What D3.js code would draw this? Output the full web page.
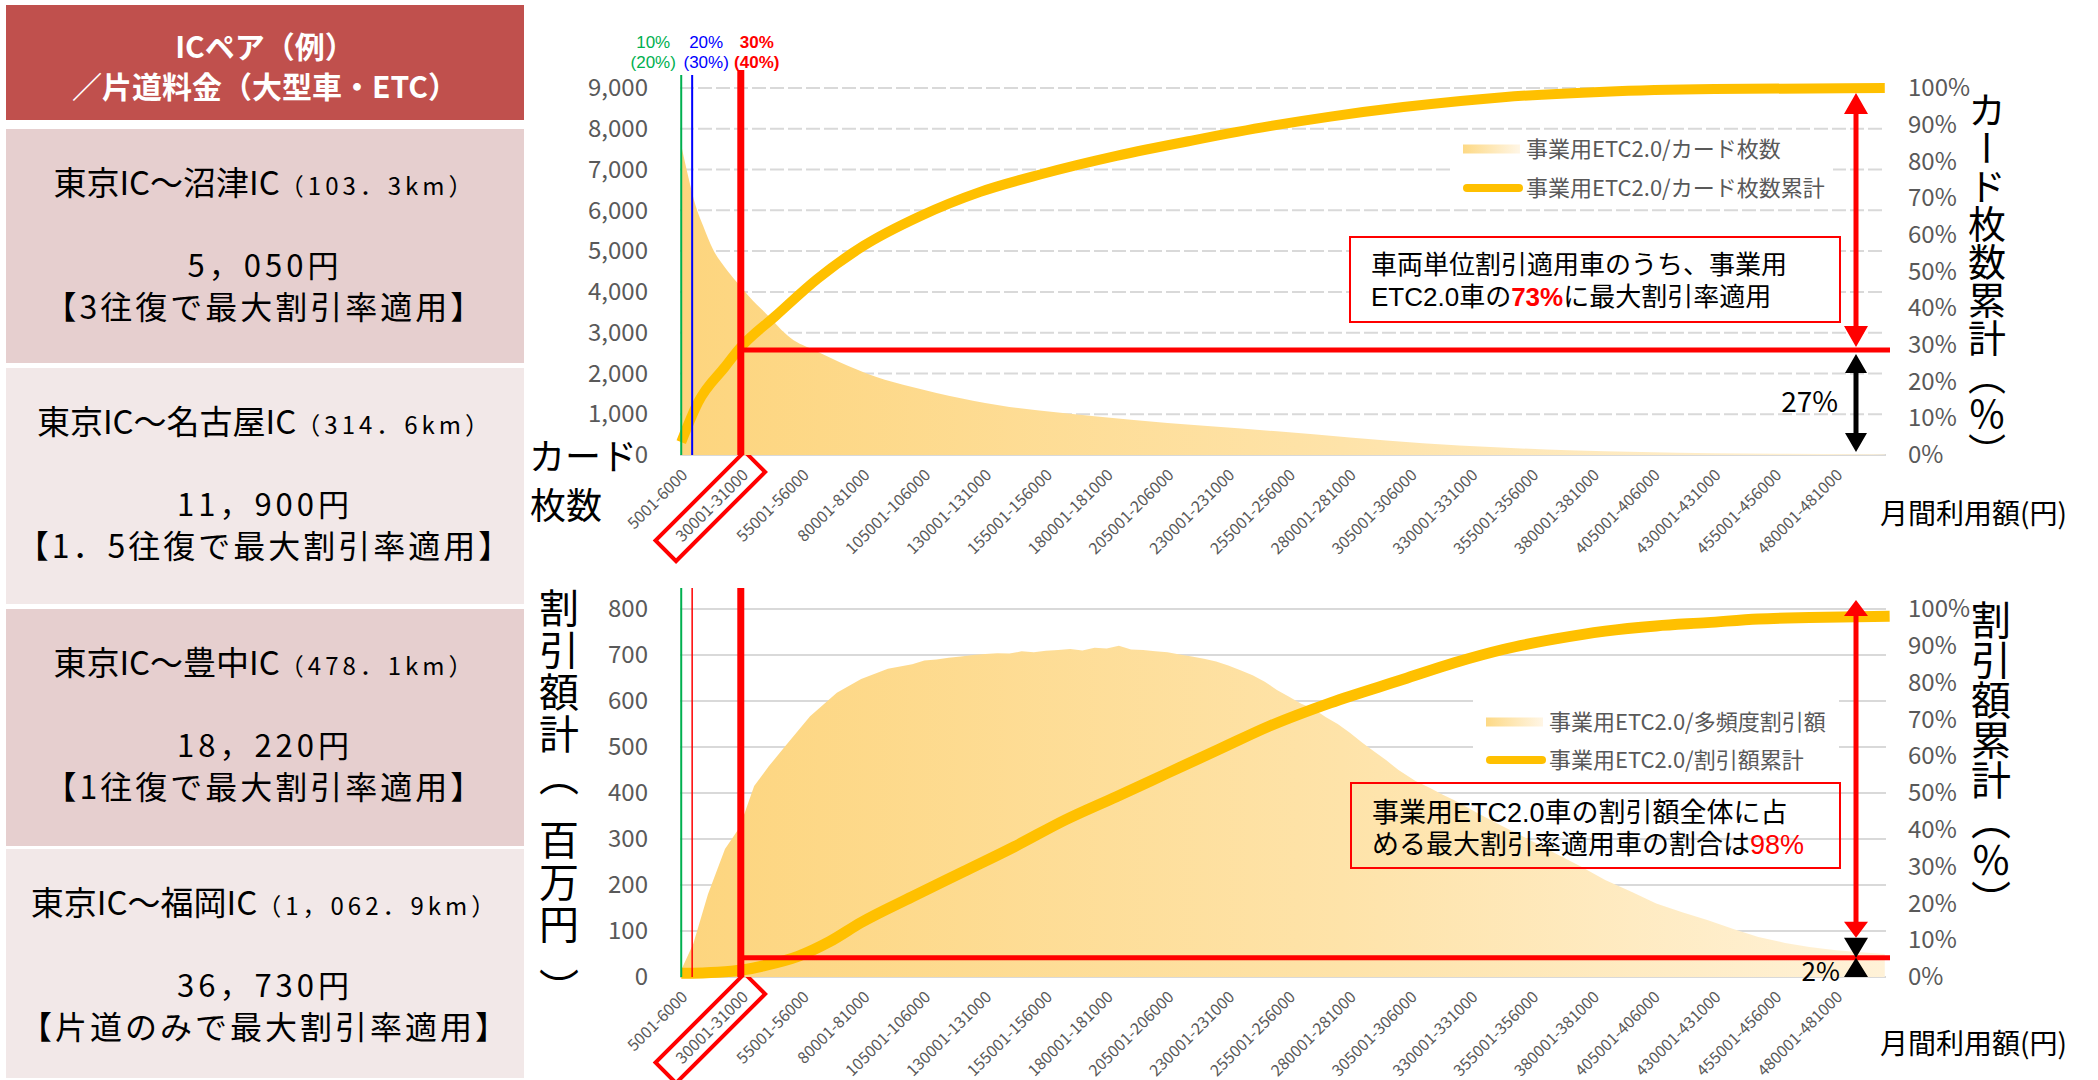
<!DOCTYPE html>
<html>
<head>
<meta charset="utf-8">
<script src="https://cdn.jsdelivr.net/npm/d3@7"></script>
<style>
body { margin: 0; background: #fff; }
svg { display: block; font-family: "Noto Sans CJK JP", "Noto Sans", sans-serif; }
</style>
</head>
<body>
<div id="chart"></div>
<script>
// ---- data ----
// left table
const icRoutes = ['東京IC～沼津IC', '東京IC～名古屋IC', '東京IC～豊中IC', '東京IC～福岡IC'];
const icDistances = ['（103．3km）', '（314．6km）', '（478．1km）', '（1，062．9km）'];
const icFares = ['5，050円', '11，900円', '18，220円', '36，730円'];
const icNotes = ['【3往復で最大割引率適用】', '【1．5往復で最大割引率適用】', '【1往復で最大割引率適用】', '【片道のみで最大割引率適用】'];

// x axis tick labels (monthly usage, yen bins)
const tickLabels = ['5001-6000', '30001-31000', '55001-56000', '80001-81000', '105001-106000',
    '130001-131000', '155001-156000', '180001-181000', '205001-206000', '230001-231000',
    '255001-256000', '280001-281000', '305001-306000', '330001-331000', '355001-356000',
    '380001-381000', '405001-406000', '430001-431000', '455001-456000', '480001-481000'];

// top: card count per bin (bin centre, yen) and cumulative share (%)
const cardBins = [5500, 8500, 11500, 14500, 18500, 23500, 28500, 33500, 40500, 50500, 60500, 70500,
    85500, 100500, 120500, 140500, 160500, 190500, 220500, 250500, 280500, 310500, 340500, 370500,
    400500, 430500, 460500, 490500, 500500];
const cardCounts = [7600, 6800, 6100, 5620, 5050, 4600, 4230, 3880, 3460, 2870, 2560, 2280,
    1920, 1665, 1390, 1180, 1045, 865, 715, 580, 430, 290, 190, 115,
    75, 45, 28, 18, 15];
const cardCumBins = [5500, 12500, 23500, 29500, 44500, 61500, 80500, 103500, 128500, 153500,
    184500, 216500, 247500, 272500, 302500, 343500, 385500, 430500, 500500];
const cardCumPct = [3.5, 14.4, 24, 29, 38, 48, 57, 65, 71.7, 76.5,
    81.5, 85.8, 89.6, 92.2, 94.8, 97.5, 99.0, 99.7, 100];

// bottom: discount amount per bin (million yen) and cumulative share (%)
const discBins = [5500, 10500, 16500, 23500, 29500, 35500, 41500, 48500, 58500, 69500, 79500, 90500,
    100500, 105500, 110500, 115500, 120500, 125500, 130500, 135500, 140500, 145500, 150500, 155500,
    160500, 165500, 170500, 175500, 180500, 185500, 190500, 195500, 200500, 205500, 210500, 215500,
    220500, 225500, 230500, 235500, 240500, 245500, 250500, 255500, 260500, 265500, 270500, 275500,
    280500, 285500, 290500, 295500, 300500, 307500, 313500, 318500, 323500, 333500, 343500, 354500,
    364500, 375500, 385500, 396500, 406500, 417500, 427500, 438500, 448500, 459500, 469500, 480500,
    490500, 500500];
const discAmount = [15, 73, 180, 278, 325, 415, 458, 503, 567, 618, 648, 670,
    680, 688, 690, 694, 697, 700, 702, 704, 703, 708, 706, 709,
    711, 713, 710, 716, 714, 720, 712, 711, 708, 706, 701, 697,
    692, 686, 677, 667, 656, 642, 624, 609, 594, 583, 565, 550,
    531, 510, 490, 471, 450, 426, 411, 397, 384, 355, 327, 298,
    270, 240, 211, 185, 160, 140, 124, 104, 87, 74, 65, 58,
    54, 50];
const discCumBins = [5500, 20500, 30500, 40500, 53500, 66500, 79500, 100500, 121500, 142500, 163500,
    184500, 205500, 226500, 247500, 272500, 302500, 323500, 343500, 364500, 385500,
    406500, 427500, 448500, 469500, 502500];
const discCumPct = [1.0, 1.3, 1.9, 3.2, 5.6, 9.6, 14.8, 21.8, 28.6, 35.4, 42.7,
    49, 55.4, 61.8, 68.2, 74.5, 80.9, 85.4, 89, 91.8, 94,
    95.4, 96.3, 97.3, 97.7, 98];

// discount-rate marker lines (yen) and their labels
const markerYen = [5500, 10000, 30000];
const markerLabels = [['10%', '(20%)'], ['20%', '(30%)'], ['30%', '(40%)']];
const thresholdPct = [28.6, 5.2];   // red horizontal lines (top, bottom)
const arrowLabels = ['27%', '2%'];

const svg = d3.select('#chart').append('svg')
    .attr('width', 2098)
    .attr('height', 1080);

// ---- left table ----
const table = svg.append('g').attr('id', 'table');
table.append('rect')
    .attr('x', 6).attr('y', 5).attr('width', 518).attr('height', 115)
    .attr('fill', '#C0504D');
table.selectAll('text.head')
    .data(['ICペア（例）', '／片道料金（大型車・ETC）'])
    .join('text')
    .attr('class', 'head')
    .attr('x', 265)
    .attr('y', (d, i) => 58 + i * 40)
    .attr('text-anchor', 'middle')
    .attr('font-size', 30)
    .attr('font-weight', 'bold')
    .attr('fill', '#fff')
    .text(d => d);

const rowTops = [129, 368, 609, 849];
const rowBottoms = [363, 604, 846, 1078];
const rows = table.selectAll('g.row')
    .data(icRoutes)
    .join('g')
    .attr('class', 'row')
    .attr('transform', (d, i) => `translate(0,${rowTops[i]})`);
rows.append('rect')
    .attr('x', 6).attr('y', 0).attr('width', 518)
    .attr('height', (d, i) => rowBottoms[i] - rowTops[i])
    .attr('fill', (d, i) => i % 2 ? '#F2E8E8' : '#E6CFCF');
const l1 = rows.append('text')
    .attr('x', 265).attr('y', 66)
    .attr('text-anchor', 'middle')
    .attr('fill', '#000');
l1.append('tspan').attr('font-size', 33).text(d => d);
l1.append('tspan').attr('font-size', 24).attr('letter-spacing', 4).text((d, i) => icDistances[i]);
rows.append('text')
    .attr('x', 265).attr('y', 148)
    .attr('text-anchor', 'middle')
    .attr('font-size', 31)
    .attr('letter-spacing', 4)
    .text((d, i) => icFares[i]);
rows.append('text')
    .attr('x', 265).attr('y', 190)
    .attr('text-anchor', 'middle')
    .attr('font-size', 32)
    .attr('letter-spacing', 3)
    .text((d, i) => icNotes[i]);

// ---- charts ----
const x = d3.scaleLinear().domain([5000, 501000]).range([680, 1886]);
const tickCenters = tickLabels.map(s => +s.split('-')[0] + 499.5);

const defs = svg.append('defs');
const grad = defs.append('linearGradient')
    .attr('id', 'areaGrad')
    .attr('gradientUnits', 'userSpaceOnUse')
    .attr('x1', 680).attr('x2', 1886).attr('y1', 0).attr('y2', 0);
grad.append('stop').attr('offset', 0).attr('stop-color', '#FDD57E');
grad.append('stop').attr('offset', 0.55).attr('stop-color', '#FEE3A9');
grad.append('stop').attr('offset', 1).attr('stop-color', '#FFF2D8');
const patchGrad = defs.append('linearGradient').attr('id', 'patchGrad');
patchGrad.append('stop').attr('offset', 0).attr('stop-color', '#FDD985');
patchGrad.append('stop').attr('offset', 1).attr('stop-color', '#FFF6E6');

const panels = [
    {
        y: d3.scaleLinear().domain([0, 9000]).range([455, 88]),
        yPct: d3.scaleLinear().domain([0, 100]).range([455, 88]),
        nTicks: 9, dash: '14,4', barBins: cardBins, barVals: cardCounts,
        cumBins: cardCumBins, cumVals: cardCumPct, lineW: 10, smoothArea: true,
        legend: ['事業用ETC2.0/カード枚数', '事業用ETC2.0/カード枚数累計'],
        legendX: 1463, legendY: [149, 188], legendBg: [1450, 137, 383, 63],
        note: [['車両単位割引適用車のうち、事業用', ''], ['ETC2.0車の', '73%', 'に最大割引率適用']],
        noteBox: [1350, 237, 490, 85], noteFill: '#fff', noteSize: 26, noteY: [265, 297],
        rightTitle: 'カード枚数累計（％）', rightTitleX: 1987, rightTitleY: 91, rightTitleSize: 38,
        markerTop: 75, markerColors: ['#00B050', '#0000FF', '#FF0000'], markerW: [2, 2, 7],
        axisTitleY: 514
    },
    {
        y: d3.scaleLinear().domain([0, 800]).range([977, 609]),
        yPct: d3.scaleLinear().domain([0, 100]).range([977, 609]),
        nTicks: 8, dash: null, barBins: discBins, barVals: discAmount,
        cumBins: discCumBins, cumVals: discCumPct, lineW: 11, smoothArea: false,
        legend: ['事業用ETC2.0/多頻度割引額', '事業用ETC2.0/割引額累計'],
        legendX: 1486, legendY: [722, 760], legendBg: [1473, 699, 366, 82],
        note: [['事業用ETC2.0車の割引額全体に占', ''], ['める最大割引率適用車の割合は', '98%', '']],
        noteBox: [1351, 783, 489, 85], noteFill: 'none', noteSize: 27, noteY: [813, 845],
        rightTitle: '割引額累計（％）', rightTitleX: 1991, rightTitleY: 600, rightTitleSize: 40,
        markerTop: 588, markerColors: ['#00B050', '#FF0000', '#FF0000'], markerW: [2, 1.5, 7],
        axisTitleY: 1044
    }
];

panels.forEach((p, pi) => {
    const g = svg.append('g').attr('class', 'panel');
    const y0 = p.y(0);

    // grid
    g.append('g')
        .selectAll('line')
        .data(p.y.ticks(p.nTicks).filter(d => d > 0))
        .join('line')
        .attr('x1', 680).attr('x2', 1886)
        .attr('y1', d => p.y(d)).attr('y2', d => p.y(d))
        .attr('stroke', '#D9D9D9')
        .attr('stroke-width', 2)
        .attr('stroke-dasharray', p.dash);
    g.append('line')
        .attr('x1', 680).attr('x2', 1886)
        .attr('y1', y0).attr('y2', y0)
        .attr('stroke', '#D9D9D9').attr('stroke-width', 2);

    // left axis
    g.append('g')
        .attr('transform', 'translate(648,0)')
        .call(d3.axisLeft(p.y).ticks(p.nTicks).tickFormat(d3.format(',')).tickSize(0).tickPadding(0))
        .call(a => a.select('.domain').remove())
        .call(a => a.selectAll('text').attr('font-size', 24).attr('fill', '#595959'))
        .attr('font-family', null);

    // right axis
    g.append('g')
        .attr('transform', 'translate(1908,0)')
        .call(d3.axisRight(p.yPct).ticks(10).tickFormat(d => d + '%').tickSize(0).tickPadding(0))
        .call(a => a.select('.domain').remove())
        .call(a => a.selectAll('text').attr('font-size', 24).attr('fill', '#595959'))
        .attr('font-family', null);

    // x axis
    const xa = g.append('g')
        .attr('transform', `translate(0,${y0})`)
        .call(d3.axisBottom(x).tickValues(tickCenters).tickFormat((d, i) => tickLabels[i]).tickSize(0))
        .call(a => a.select('.domain').remove())
        .attr('font-family', null);
    xa.selectAll('text')
        .attr('transform', 'rotate(-45)')
        .attr('text-anchor', 'end')
        .attr('x', -10).attr('y', 14).attr('dy', '0.35em')
        .attr('font-size', 16)
        .attr('fill', '#595959');
    xa.selectAll('.tick').filter((d, i) => i === 1)
        .append('rect')
        .attr('transform', 'rotate(-45)')
        .attr('x', -122).attr('y', -1).attr('width', 126).attr('height', 29)
        .attr('fill', 'none').attr('stroke', '#FF0000').attr('stroke-width', 4);

    // legend background + note box
    g.append('rect')
        .attr('x', p.legendBg[0]).attr('y', p.legendBg[1])
        .attr('width', p.legendBg[2]).attr('height', p.legendBg[3])
        .attr('fill', '#fff');
    g.append('rect')
        .attr('x', p.noteBox[0]).attr('y', p.noteBox[1])
        .attr('width', p.noteBox[2]).attr('height', p.noteBox[3])
        .attr('fill', p.noteFill);

    // area
    const barData = p.barBins.map((b, i) => [b, p.barVals[i]]);
    g.append('path')
        .datum(barData)
        .attr('fill', 'url(#areaGrad)')
        .attr('d', d3.area()
            .x(d => x(d[0]))
            .y0(y0)
            .y1(d => p.y(d[1]))
            .curve(p.smoothArea ? d3.curveMonotoneX : d3.curveLinear));

    // cumulative line
    const cumData = p.cumBins.map((b, i) => [b, p.cumVals[i]]);
    g.append('path')
        .datum(cumData)
        .attr('fill', 'none')
        .attr('stroke', '#FFC000')
        .attr('stroke-width', p.lineW)
        .attr('d', d3.line()
            .x(d => x(d[0]))
            .y(d => p.yPct(d[1]))
            .curve(d3.curveMonotoneX));

    // note box outline + text
    g.append('rect')
        .attr('x', p.noteBox[0]).attr('y', p.noteBox[1])
        .attr('width', p.noteBox[2]).attr('height', p.noteBox[3])
        .attr('fill', 'none').attr('stroke', '#FF0000').attr('stroke-width', 2);
    p.note.forEach((parts, li) => {
        const t = g.append('text')
            .attr('x', p.noteBox[0] + 21)
            .attr('y', p.noteY[li])
            .attr('dy', '0.35em')
            .attr('font-family', '"Liberation Sans", "Noto Sans CJK JP", sans-serif')
            .attr('font-size', p.noteSize)
            .attr('fill', '#000');
        parts.forEach((s, si) => {
            if (!s) return;
            const ts = t.append('tspan').text(s);
            if (si === 1) ts.attr('fill', '#FF0000').attr('font-weight', pi === 0 ? 'bold' : null);
        });
    });

    // legend
    g.append('rect')
        .attr('x', p.legendX).attr('y', p.legendY[0] - 4.5)
        .attr('width', 57).attr('height', 9)
        .attr('fill', 'url(#patchGrad)');
    g.append('line')
        .attr('x1', p.legendX + 4).attr('x2', p.legendX + 56)
        .attr('y1', p.legendY[1]).attr('y2', p.legendY[1])
        .attr('stroke', '#FFC000').attr('stroke-width', 8)
        .attr('stroke-linecap', 'round');
    g.selectAll('text.leg')
        .data(p.legend)
        .join('text')
        .attr('class', 'leg')
        .attr('x', p.legendX + 63)
        .attr('y', (d, i) => p.legendY[i])
        .attr('dy', '0.35em')
        .attr('font-size', 22)
        .attr('fill', '#595959')
        .text(d => d);

    // marker verticals
    g.selectAll('line.marker')
        .data(markerYen)
        .join('line')
        .attr('class', 'marker')
        .attr('x1', d => x(d)).attr('x2', d => x(d))
        .attr('y1', (d, i) => i === 2 ? p.markerTop - (pi === 0 ? 5 : 0) : p.markerTop)
        .attr('y2', y0)
        .attr('stroke', (d, i) => p.markerColors[i])
        .attr('stroke-width', (d, i) => p.markerW[i]);

    // red threshold line
    const ty = p.yPct(thresholdPct[pi]);
    g.append('line')
        .attr('x1', x(markerYen[2])).attr('x2', 1890)
        .attr('y1', ty).attr('y2', ty)
        .attr('stroke', '#FF0000').attr('stroke-width', 5);

    // arrows
    const ax = 1856;
    const redTop = pi === 0 ? p.yPct(100) + 5 : p.yPct(100) - 9;
    const redBot = pi === 0 ? ty - 3 : ty - 20;
    const headH = pi === 0 ? 21 : 16;
    g.append('line')
        .attr('x1', ax).attr('x2', ax)
        .attr('y1', redTop + headH - 1).attr('y2', redBot - headH + 1)
        .attr('stroke', '#FF0000').attr('stroke-width', 5);
    g.append('path')
        .attr('d', `M${ax},${redTop}L${ax - 12},${redTop + headH}L${ax + 12},${redTop + headH}Z` +
            `M${ax},${redBot}L${ax - 12},${redBot - headH}L${ax + 12},${redBot - headH}Z`)
        .attr('fill', '#FF0000');
    if (pi === 0) {
        const bTop = ty + 4, bBot = y0 - 3;
        g.append('line')
            .attr('x1', ax).attr('x2', ax)
            .attr('y1', bTop + 18).attr('y2', bBot - 18)
            .attr('stroke', '#000').attr('stroke-width', 5);
        g.append('path')
            .attr('d', `M${ax},${bTop}L${ax - 11},${bTop + 19}L${ax + 11},${bTop + 19}Z` +
                `M${ax},${bBot}L${ax - 11},${bBot - 19}L${ax + 11},${bBot - 19}Z`)
            .attr('fill', '#000');
        g.append('text')
            .attr('x', 1838).attr('y', (ty + y0) / 2)
            .attr('dy', '0.35em')
            .attr('text-anchor', 'end')
            .attr('font-size', 28)
            .text(arrowLabels[pi]);
    } else {
        g.append('path')
            .attr('d', `M${ax - 12},${redBot}L${ax + 12},${redBot}L${ax},${ty}Z` +
                `M${ax - 12},${y0}L${ax + 12},${y0}L${ax},${ty}Z`)
            .attr('fill', '#000');
        g.append('text')
            .attr('x', 1840).attr('y', ty + 14)
            .attr('dy', '0.35em')
            .attr('text-anchor', 'end')
            .attr('font-size', 26)
            .text(arrowLabels[pi]);
    }

    // right vertical title
    g.append('text')
        .attr('x', p.rightTitleX).attr('y', p.rightTitleY)
        .style('writing-mode', 'vertical-rl')
        .attr('font-size', p.rightTitleSize)
        .attr('fill', '#000')
        .text(p.rightTitle);

    // x axis title
    g.append('text')
        .attr('x', 1880).attr('y', p.axisTitleY)
        .attr('dy', '0.35em')
        .attr('font-size', 28)
        .attr('fill', '#000')
        .text('月間利用額(円)');
});

// left axis titles
svg.append('text').attr('x', 529).attr('y', 470).attr('font-size', 36).text('カード');
svg.append('text').attr('x', 530).attr('y', 519).attr('font-size', 36).text('枚数');
svg.append('text')
    .attr('x', 559).attr('y', 588)
    .style('writing-mode', 'vertical-rl')
    .attr('font-size', 40)
    .attr('letter-spacing', 2)
    .text('割引額計（\u2002百万円\u2002）');

// marker labels above the top chart
const labelOffsets = [-28, 14, 16];
const markerLabelColors = ['#00B050', '#0000FF', '#FF0000'];
markerYen.forEach((m, i) => {
    svg.selectAll(null)
        .data(markerLabels[i])
        .join('text')
        .attr('x', x(m) + labelOffsets[i])
        .attr('y', (d, j) => 42 + j * 20)
        .attr('dy', '0.35em')
        .attr('text-anchor', 'middle')
        .attr('font-family', '"Liberation Sans", Arial, sans-serif')
        .attr('font-size', 17)
        .attr('font-weight', i === 2 ? 'bold' : null)
        .attr('fill', markerLabelColors[i])
        .text(d => d);
});
</script>
</body>
</html>
